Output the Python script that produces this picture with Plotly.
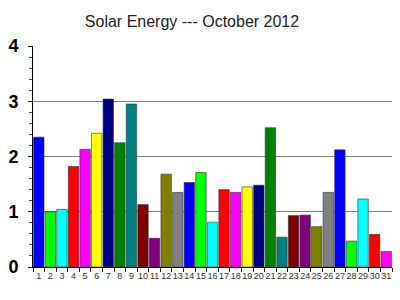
import plotly.graph_objects as go

days = [str(d) for d in range(1, 32)]
values = [2.35, 1.00, 1.04, 1.82, 2.13, 2.42, 3.04, 2.25, 2.95, 1.13,
          0.52, 1.68, 1.35, 1.53, 1.71, 0.81, 1.40, 1.35, 1.45, 1.48,
          2.52, 0.54, 0.93, 0.94, 0.73, 1.35, 2.12, 0.47, 1.23, 0.59, 0.28]
palette = ["#0000FF", "#00FF00", "#00FFFF", "#FF0000", "#FF00FF", "#FFFF00",
           "#000080", "#008000", "#008080", "#800000", "#800080", "#808000", "#808080"]
colors = [palette[i % len(palette)] for i in range(len(days))]

fig = go.Figure(go.Bar(
    x=days, y=values,
    marker=dict(color=colors, line=dict(color="#333333", width=0.6)),
))

fig.update_layout(
    width=400, height=300,
    margin=dict(l=31, r=8, t=46, b=33),
    paper_bgcolor="white", plot_bgcolor="white",
    bargap=0.1,
    showlegend=False,
    title=dict(text="Solar Energy --- October 2012", x=0.48, xanchor="center",
               y=0.93, yanchor="middle",
               font=dict(family="Arial, Liberation Sans", size=16, color="#222222")),
    font=dict(family="Arial, Liberation Sans"),
)
fig.update_xaxes(
    type="category", tickson="boundaries", ticks="outside", ticklen=4,
    tickcolor="#222", showline=True, linecolor="black", linewidth=1,
    tickangle=0, tickfont=dict(size=9, color="#333"), showgrid=False,
)
fig.update_yaxes(
    range=[0, 4], dtick=1, ticks="outside", ticklen=4, tickcolor="#222",
    showline=True, linecolor="black", linewidth=1,
    showgrid=True, gridcolor="#808080", gridwidth=1,
    tickfont=dict(size=18, color="black", family="Arial, Liberation Sans", weight="bold"),
    minor=dict(dtick=0.2, ticks="outside", ticklen=3, tickcolor="#444", showgrid=False),
    zeroline=False, ticklabelstandoff=6,
)
fig.write_html("out.html")
